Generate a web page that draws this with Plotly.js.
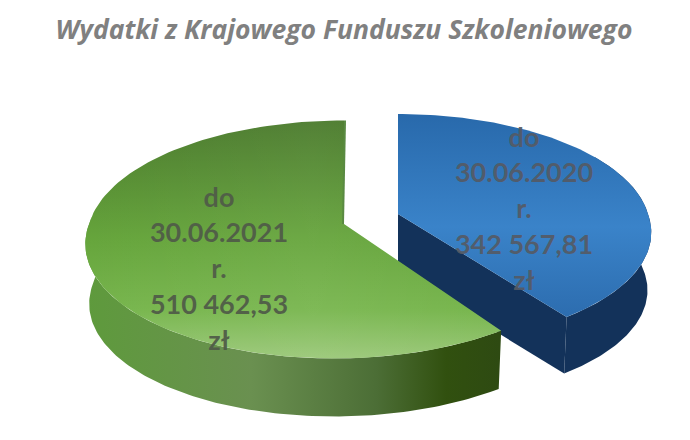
<!DOCTYPE html>
<html><head><meta charset="utf-8">
<script src="https://cdn.plot.ly/plotly-3.0.1.min.js"></script>
<style>html,body{margin:0;padding:0;background:#fff}#c{width:690px;height:440px}</style>
</head><body><div id="c"></div>
<script>
const titleText = "Wydatki z Krajowego Funduszu Szkoleniowego";
const periods = ["do 30.06.2020 r.", "do 30.06.2021 r."];
const amounts = [342567.81, 510462.53];
const blueLabelLines = ["do", "30.06.2020", "r.", "342 567,81", "zł"];
const greenLabelLines = ["do", "30.06.2021", "r.", "510 462,53", "zł"];

const total = amounts[0] + amounts[1];
const split = 2 * Math.PI * amounts[0] / total;   // slice boundary, clockwise from 12 o'clock

const P = 0.13;                 // perspective strength
function pt(s, th, drop, scale) {
  const u = Math.sin(th), v = Math.cos(th), d = 1 + P * v;
  return [s.cx + scale * s.R * u / d + s.lean * Math.max(0, -v),
          s.cy + drop - scale * s.r * v / d];
}
function arc(s, a, b, drop, scale) {
  const xs = [], ys = [], n = 120;
  for (let i = 0; i <= n; i++) {
    const p = pt(s, a + (b - a) * i / n, drop, scale);
    xs.push(p[0]); ys.push(p[1]);
  }
  return [xs, ys];
}
function topFace(s, a, b) {
  const [x, y] = arc(s, a, b, 0, 1);
  return [[s.cx, ...x, s.cx], [s.cy, ...y, s.cy]];
}
function wall(s, a, b) {
  const [x1, y1] = arc(s, a, b, 0, 1);
  const [x2, y2] = arc(s, b, a, s.depth, s.shrink);
  return [[...x1, ...x2, x1[0]], [...y1, ...y2, y1[0]]];
}
function cut(s, a) {
  const e = pt(s, a, 0, 1), f = pt(s, a, s.depth, s.shrink);
  return [[s.cx, e[0], f[0], s.cx, s.cx], [s.cy, e[1], f[1], s.cy + s.depth, s.cy]];
}
function poly(name, g, colors, type, start, stop) {
  return {name, x: g[0], y: g[1], mode: 'lines', line: {width: 0}, fill: 'toself', hoverinfo: 'skip',
    fillcolor: 'rgba(0,0,0,0)',
    fillgradient: {type, colorscale: colors, start, stop}};
}
function labels(lines, x, y0, color) {
  return {x: lines.map(() => x), y: lines.map((l, i) => y0 + i * 35.7), mode: 'text', text: lines,
    textposition: 'middle center', hoverinfo: 'skip',
    textfont: {family: 'Lato, "Open Sans", sans-serif', size: 27, weight: 700, color}};
}

const blue = {cx: 398, cy: 214, R: 250, r: 113, depth: 58, shrink: 0.985, lean: 8};
const green = {cx: 344, cy: 224, R: 255, r: 117, depth: 60, shrink: 0.985, lean: -10};
const greenStart = pt(green, 2 * Math.PI, 0, 1);

const traces = [
  poly(periods[0], wall(blue, 1.0, split), [[0,'#13325a'],[1,'#13325a']], 'vertical', 230, 380),
  poly(periods[0], cut(blue, split), [[0,'#13325a'],[1,'#13325a']], 'vertical', 220, 380),
  poly(periods[0], topFace(blue, 0, split), [[0,'#2869ab'],[0.55,'#3a83c9'],[1,'#2c6cae']], 'vertical', 113, 320),
  poly(periods[1], wall(green, split, 1.52 * Math.PI),
       [[0,'#5e9a3c'],[0.4,'#6a9050'],[0.7,'#4c6e36'],[0.87,'#31500f'],[1,'#2e4a12']], 'horizontal', 86, 500),
  poly(periods[1], topFace(green, split, 2 * Math.PI),
       [[0,'#4a7a2c'],[0.5,'#66a53c'],[0.8,'#78b64e'],[1,'#9ac878']], 'vertical', 120, 358),
  poly(periods[1], topFace(green, split, 2 * Math.PI),
       [[0,'rgba(255,255,255,0)'],[0.55,'rgba(255,255,255,0.05)'],[1,'rgba(255,255,255,0)']], 'horizontal', 86, 500),
  {name: periods[1], x: [greenStart[0] + 1, green.cx - 1], y: [greenStart[1], green.cy], mode: 'lines',
   line: {color: '#5a8a42', width: 2}, hoverinfo: 'skip'},
  labels(blueLabelLines, 524, 140, 'rgba(85,90,100,0.92)'),
  labels(greenLabelLines, 219, 200, 'rgba(80,92,72,0.95)')
];

const axis = {visible: false, fixedrange: true};
const layout = {
  width: 690, height: 440, showlegend: false,
  margin: {l: 0, r: 0, t: 0, b: 0},
  paper_bgcolor: '#fff', plot_bgcolor: '#fff',
  xaxis: {...axis, range: [0, 690]},
  yaxis: {...axis, range: [440, 0]},
  title: {text: titleText, x: 0.4985, xanchor: 'center', y: 0.9325, yanchor: 'middle',
    font: {family: '"Open Sans", Lato, sans-serif', size: 26.5, weight: 700, style: 'italic', color: '#808080'}}
};
Plotly.newPlot('c', traces, layout, {displayModeBar: false, staticPlot: true});
</script></body></html>
